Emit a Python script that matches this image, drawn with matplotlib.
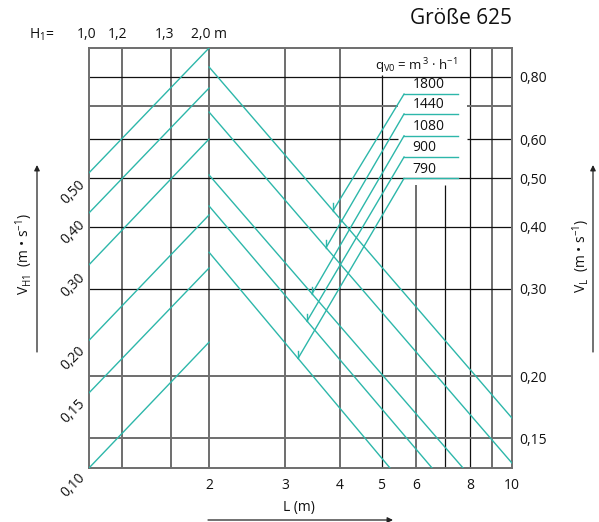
import numpy as np
import matplotlib
matplotlib.use("Agg")
import matplotlib.pyplot as plt
from matplotlib import transforms
from matplotlib.ticker import NullLocator, FixedLocator, FixedFormatter

plt.rcParams["font.family"] = ["Open Sans", "DejaVu Sans"]
plt.rcParams["mathtext.fontset"] = "custom"
plt.rcParams["mathtext.rm"] = "Open Sans"
plt.rcParams["mathtext.it"] = "Open Sans:italic"
plt.rcParams["mathtext.bf"] = "Open Sans:bold"

TEAL = "#2db7aa"
GRAY = "#6e6e6e"
BLACK = "#111111"

# ---- axis ranges -------------------------------------------------------
L_range = (1.057, 10.0)        # L (m)
VL_range = (0.1306, 0.915)     # V_L (m/s), right-hand scale
VH_range = (0.1098, 1.1026)    # V_H1 (m/s), left-hand scale

# ---- grid --------------------------------------------------------------
x_grid_gray = [1.26, 1.635, 2, 3, 4, 6, 9]
x_grid_black = [5, 7, 8]
v_grid_black = [0.8, 0.6, 0.5, 0.4, 0.3]
v_grid_gray = [0.7, 0.2, 0.15]
x_grid_top = {5: 0.808, 6: 0.484, 7: 0.484}      # lines stopped below the legend
v_grid_gap = {0.7: (5.46, 7.87), 0.6: (5.46, 7.87)}

# ---- tick labels -------------------------------------------------------
L_ticks = [2, 3, 4, 5, 6, 8, 10]
L_ticklabels = ["2", "3", "4", "5", "6", "8", "10"]
VL_ticks = [0.80, 0.60, 0.50, 0.40, 0.30, 0.20, 0.15]
VL_ticklabels = ["0,80", "0,60", "0,50", "0,40", "0,30", "0,20", "0,15"]
VH_ticks = [0.50, 0.40, 0.30, 0.20, 0.15, 0.10]
VH_ticklabels = ["0,50", "0,40", "0,30", "0,20", "0,15", "0,10"]
H1_pos = [1.046, 1.227, 1.575, 2.0]
H1_labels = ["1,0", "1,2", "1,3", "2,0 m"]

# ---- rising family (left half) -----------------------------------------
rise_L = (1.057, 2.0)
rise_start_V = [0.513, 0.426, 0.335, 0.236, 0.185, 0.1306]
rise_end_V = [0.915, 0.760, 0.600, 0.422, 0.330, 0.234]

# ---- falling family (right half) ---------------------------------------
fall_start_L = 2.0
fall_start_V = [0.838, 0.680, 0.508, 0.440, 0.355]
fall_end_L = [10.0, 10.0, 7.71, 6.54, 5.23]
fall_end_V = [0.1646, 0.1336, 0.1306, 0.1306, 0.1306]

# ---- volume-flow legend ------------------------------------------------
flow_labels = ["1800", "1440", "1080", "900", "790"]
flow_V = [0.739, 0.674, 0.609, 0.552, 0.500]
flow_line_L = (5.635, 7.51)
flow_label_L = 5.9
arrow_tip_L = [3.865, 3.724, 3.456, 3.366, 3.209]

W, H = 599, 522
fig = plt.figure(figsize=(W / 100, H / 100), dpi=100)
ax = fig.add_axes([89 / W, 1 - 468 / H, (512 - 89) / W, (468 - 48) / H])
ax.set_xscale("log")
ax.set_yscale("log")
ax.set_xlim(*L_range)
ax.set_ylim(*VL_range)

# left-hand V_H1 scale (twin shares L)
ax2 = ax.twinx()
ax2.set_yscale("log")
ax2.set_ylim(*VH_range)
ax2.yaxis.set_major_locator(NullLocator())
ax2.yaxis.set_minor_locator(NullLocator())
for s in ax2.spines.values():
    s.set_visible(False)

for s in ax.spines.values():
    s.set_color(GRAY)
    s.set_linewidth(1.4)

ax.xaxis.set_major_locator(FixedLocator(L_ticks))
ax.xaxis.set_major_formatter(FixedFormatter(L_ticklabels))
ax.xaxis.set_minor_locator(NullLocator())
ax.yaxis.set_major_locator(FixedLocator(VL_ticks))
ax.yaxis.set_major_formatter(FixedFormatter(VL_ticklabels))
ax.yaxis.set_minor_locator(NullLocator())
ax.yaxis.tick_right()
ax.tick_params(axis="both", length=0, labelsize=10, colors="#111111")
ax.tick_params(axis="x", pad=7)
ax.tick_params(axis="y", pad=5, left=False, labelleft=False,
               right=False, labelright=True)

# grid lines
for x in x_grid_gray + x_grid_black:
    col, lw = (GRAY, 1.4) if x in x_grid_gray else (BLACK, 0.9)
    top = x_grid_top.get(x, VL_range[1])
    ax.plot([x, x], [VL_range[0], top], color=col, lw=lw, zorder=1,
            solid_capstyle="butt")
for v in v_grid_gray + v_grid_black:
    col, lw = (GRAY, 1.4) if v in v_grid_gray else (BLACK, 0.9)
    if v in v_grid_gap:
        a, b = v_grid_gap[v]
        segs = [(L_range[0], a), (b, L_range[1])]
    else:
        segs = [L_range]
    for x0, x1 in segs:
        ax.plot([x0, x1], [v, v], color=col, lw=lw, zorder=1,
                solid_capstyle="butt")

# rising lines
for v0, v1 in zip(rise_start_V, rise_end_V):
    ax.plot(rise_L, [v0, v1], color=TEAL, lw=1.0, zorder=3)

# falling lines
for v0, l1, v1 in zip(fall_start_V, fall_end_L, fall_end_V):
    ax.plot([fall_start_L, l1], [v0, v1], color=TEAL, lw=1.0, zorder=3)

# legend leaders with arrows onto the falling lines
for lab, fv, tl, v0, l1, v1 in zip(flow_labels, flow_V, arrow_tip_L,
                                   fall_start_V, fall_end_L, fall_end_V):
    tv = 10 ** np.interp(np.log10(tl), np.log10([fall_start_L, l1]),
                         np.log10([v0, v1]))
    ax.plot(flow_line_L, [fv, fv], color=TEAL, lw=1.0, zorder=3)
    ax.plot([flow_line_L[0], tl], [fv, tv], color=TEAL, lw=1.0, zorder=3)
    ax.plot([tl, tl], [tv, tv * 1.034], color=TEAL, lw=1.0, zorder=3)
    ax.annotate(lab, xy=(flow_label_L, fv), xytext=(0, 1.2),
                textcoords="offset points", ha="left", va="bottom",
                fontsize=10, color="#111111", zorder=4)

ax.text(6.005, 0.842, r"q$_{\mathrm{V0}}$ = m$^{\,3}$ · h$^{-1}$",
        ha="center", va="center", fontsize=9.5, color="#111111")

tr_left = transforms.blended_transform_factory(ax2.transAxes, ax2.transData)
for v, lab in zip(VH_ticks, VH_ticklabels):
    ax2.text(-0.038, v, lab, transform=tr_left, rotation=45,
             rotation_mode="anchor", ha="center", va="center",
             fontsize=10, color="#111111", clip_on=False)

# top H1 labels
tr_top = transforms.blended_transform_factory(ax.transData, ax.transAxes)
for x, lab in zip(H1_pos, H1_labels):
    ax.text(x, 1.031, lab, transform=tr_top, ha="center", va="center",
            fontsize=10, color="#111111", clip_on=False)
fig.text(42 / W, 1 - 35 / H, r"H$_{1}$=", ha="center", va="center",
         fontsize=10, color="#111111")

fig.text(461 / W, 1 - 19 / H, "Größe 625", ha="center", va="center",
         fontsize=15, color="#111111")

fig.text(24 / W, 1 - 254 / H, r"V$_{\mathrm{H1}}$  (m • s$^{-1}$)",
         rotation=90, ha="center", va="center", fontsize=10, color="#111111")
fig.text(581 / W, 1 - 256 / H, r"V$_{\mathrm{L}}$  (m • s$^{-1}$)",
         rotation=90, ha="center", va="center", fontsize=10, color="#111111")
fig.text(299 / W, 1 - 507 / H, "L (m)", ha="center", va="center",
         fontsize=10, color="#111111")

arrow_kw = dict(arrowstyle="-|>", mutation_scale=8, lw=0.9, color="#222222",
                shrinkA=0, shrinkB=0)
for (x0, y0), (x1, y1) in [((37, 352), (37, 165)),
                           ((593, 352), (593, 165)),
                           ((208, 520), (393, 520))]:
    fig.add_artist(matplotlib.patches.FancyArrowPatch(
        (x0 / W, 1 - y0 / H), (x1 / W, 1 - y1 / H),
        transform=fig.transFigure, **arrow_kw))

fig.savefig("out.png", dpi=100)
